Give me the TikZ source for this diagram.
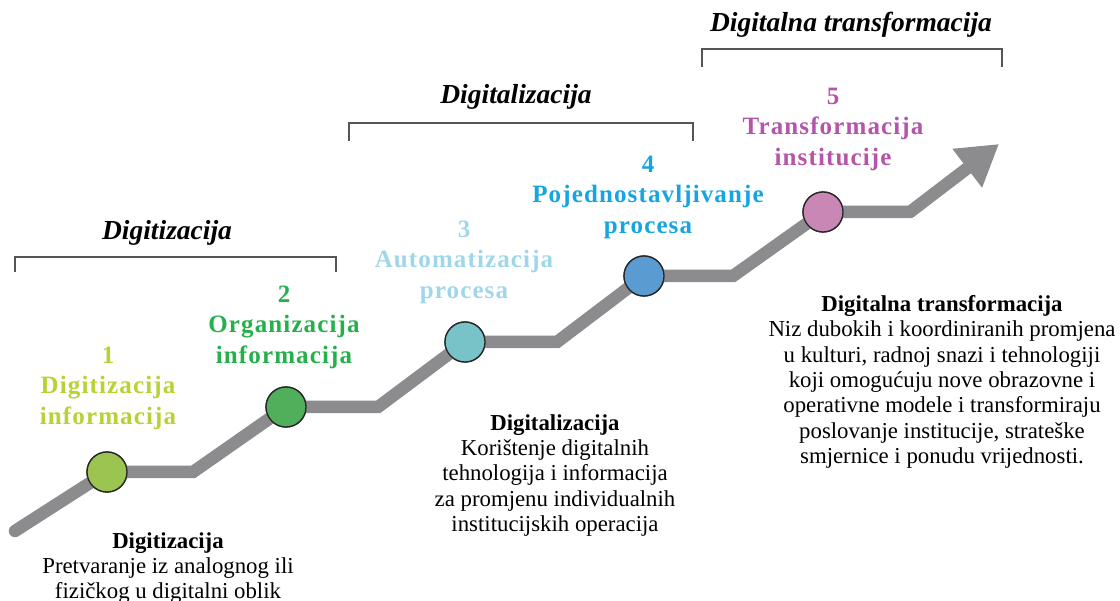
\documentclass[tikz,border=0pt]{standalone}
\usepackage{fontspec}
\setmainfont{Liberation Serif}
\newfontfamily\spaced[LetterSpace=4.5]{Liberation Serif}
\usetikzlibrary{arrows.meta}
\definecolor{pathgray}{RGB}{140,140,142}
\definecolor{brk}{RGB}{85,85,85}
\definecolor{lab1}{RGB}{181,211,52}
\definecolor{lab2}{RGB}{38,176,76}
\definecolor{lab3}{RGB}{160,215,232}
\definecolor{lab4}{RGB}{22,165,225}
\definecolor{lab5}{RGB}{180,85,170}
\definecolor{dot1}{RGB}{155,196,80}
\definecolor{dot2}{RGB}{80,175,90}
\definecolor{dot3}{RGB}{120,195,200}
\definecolor{dot4}{RGB}{90,155,210}
\definecolor{dot5}{RGB}{200,135,180}
\tikzset{
  stepdot/.style={circle,draw=black!85,line width=1.3pt,minimum size=40pt,inner sep=0pt},
  steplabel/.style={align=center,font=\spaced\bfseries\fontsize{25}{30.5}\selectfont,inner sep=0pt},
  phase/.style={font=\bfseries\itshape\fontsize{27.5}{30}\selectfont,inner sep=0pt},
  bracketline/.style={draw=brk,line width=1.6pt},
  desc/.style={align=center,font=\fontsize{22.8}{25.4}\selectfont,inner sep=0pt,anchor=north},
  track/.style={draw=pathgray,line width=12.5pt,line cap=round,line join=miter}
}
\begin{document}
\begin{tikzpicture}[x=1pt,y=-1pt]
\useasboundingbox (0,0) rectangle (1120,601);
% track coordinates
\coordinate (s) at (15,531);
\coordinate (k1) at (193,472);
\coordinate (k2) at (378,407);
\coordinate (k3) at (557,342);
\coordinate (k4) at (733,276);
\coordinate (k5) at (910,212);
\coordinate (tip) at (999,144);
\node[stepdot,fill=dot1] (d1) at (107,472) {};
\node[stepdot,fill=dot2] (d2) at (286,407) {};
\node[stepdot,fill=dot3] (d3) at (465,342) {};
\node[stepdot,fill=dot4] (d4) at (644,276) {};
\node[stepdot,fill=dot5] (d5) at (823,212) {};
\path[track] (s) -- (d1.center) -- (k1) -- (d2.center) -- (k2) -- (d3.center) -- (k3) -- (d4.center) -- (k4) -- (d5.center) -- (k5);
\draw[pathgray,line width=12.5pt,-{Triangle[length=40pt,width=46pt]}] (k5) -- (tip);
% redraw dots above track
\node[stepdot,fill=dot1] at (d1) {};
\node[stepdot,fill=dot2] at (d2) {};
\node[stepdot,fill=dot3] at (d3) {};
\node[stepdot,fill=dot4] at (d4) {};
\node[stepdot,fill=dot5] at (d5) {};
% step labels
\node[steplabel,text=lab1] (l1) at (108,388) {1\\Digitizacija\\informacija};
\node[steplabel,text=lab2] (l2) at (284,327) {2\\Organizacija\\informacija};
\node[steplabel,text=lab3] (l3) at (464,262) {3\\Automatizacija\\procesa};
\node[steplabel,text=lab4] (l4) at (648,197) {4\\Pojednostavljivanje\\procesa};
\node[steplabel,text=lab5] (l5) at (833,129) {5\\Transformacija\\institucije};
% phase brackets
\coordinate (b1a) at (15,272); \coordinate (b1b) at (15,257);
\coordinate (b1c) at (336,257); \coordinate (b1d) at (336,272);
\draw[bracketline] (b1a) -- (b1b) -- (b1c) -- (b1d);
\node[phase] (p1) at (167,233) {Digitizacija};
\coordinate (b2a) at (349,141); \coordinate (b2b) at (349,123);
\coordinate (b2c) at (693,123); \coordinate (b2d) at (693,141);
\draw[bracketline] (b2a) -- (b2b) -- (b2c) -- (b2d);
\node[phase] (p2) at (516,97) {Digitalizacija};
\coordinate (b3a) at (702,67); \coordinate (b3b) at (702,49);
\coordinate (b3c) at (1002,49); \coordinate (b3d) at (1002,67);
\draw[bracketline] (b3a) -- (b3b) -- (b3c) -- (b3d);
\node[phase] (p3) at (851,25) {Digitalna transformacija};
% descriptions
\node[desc] (t1) at (168,532) {\textbf{Digitizacija}\\Pretvaranje iz analognog ili\\fizičkog u digitalni oblik};
\node[desc] (t2) at (555,414) {\textbf{Digitalizacija}\\Korištenje digitalnih\\tehnologija i informacija\\za promjenu individualnih\\institucijskih operacija};
\node[desc] (t3) at (942,295) {\textbf{Digitalna transformacija}\\Niz dubokih i koordiniranih promjena\\u kulturi, radnoj snazi i tehnologiji\\koji omogućuju nove obrazovne i\\operativne modele i transformiraju\\poslovanje institucije, strateške\\smjernice i ponudu vrijednosti.};
\end{tikzpicture}
\end{document}
